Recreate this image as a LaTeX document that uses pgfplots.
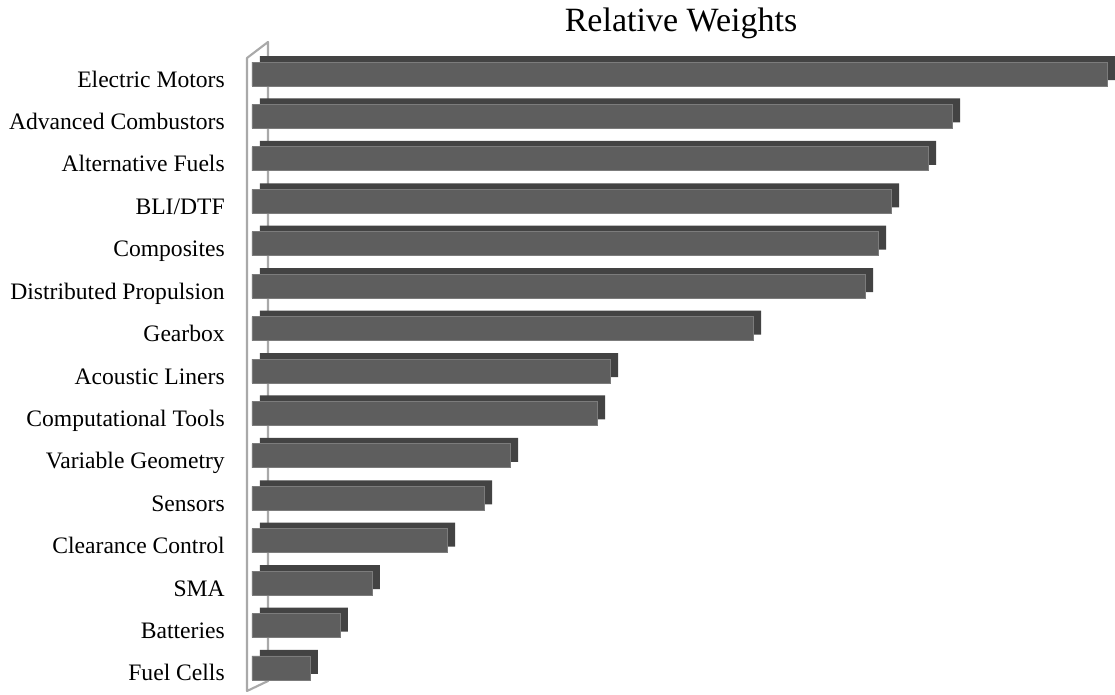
\documentclass[border=0pt]{standalone}
\usepackage{fontspec}
\setmainfont{Liberation Serif}
\usepackage{pgfplots}
\usepackage{pgfplotstable}
\pgfplotsset{compat=1.18}

\definecolor{frontgray}{HTML}{5E5E5E}
\definecolor{sidegray}{HTML}{434343}
\definecolor{edgegray}{HTML}{7C7C7C}
\definecolor{wallgray}{HTML}{A9A9A9}

% relative weight, measured as bar length (arbitrary units)
\pgfplotstableread{
i v
0  855
1  700
2  676
3  639
4  626
5  613
6  501
7  358
8  345
9  258
10 232
11 195
12 120
13 88
14 58
}\weights

\begin{document}
\begin{tikzpicture}[x=0.75pt,y=0.75pt]
\useasboundingbox (0,0) rectangle (1115,694);
% side wall
\draw[line width=1.6pt, color=wallgray, line join=round]
  (268,13) -- (268,652) -- (247,636) -- (247,3) -- cycle;
\begin{axis}[
  at={(189pt,3.6pt)}, anchor=south west,
  scale only axis, width=647.25pt, height=477.3pt,
  xmin=0, xmax=863, ymin=-0.5, ymax=14.5, y dir=reverse,
  axis line style={draw=none},
  xtick=\empty, ytick={0,...,14},
  yticklabels={Electric Motors, Advanced Combustors, Alternative Fuels, BLI/DTF,
    Composites, Distributed Propulsion, Gearbox, Acoustic Liners,
    Computational Tools, Variable Geometry, Sensors, Clearance Control,
    SMA, Batteries, Fuel Cells},
  major tick length=0pt,
  yticklabel style={anchor=base east, inner sep=0pt, xshift=-20.25pt,
    yshift=-9.75pt, font=\fontsize{17.7}{20}\selectfont},
  xbar, bar width=18pt, bar shift=0pt,
  clip=false,
]
\addplot[fill=sidegray, draw=none, xshift=6pt, yshift=4.5pt] table[x=v,y=i] {\weights};
\addplot[fill=frontgray, draw=edgegray, line width=0.6pt] table[x=v,y=i] {\weights};
\end{axis}
\node[anchor=base, font=\fontsize{25.5}{28}\selectfont] at (681,662) {Relative Weights};
\end{tikzpicture}
\end{document}
